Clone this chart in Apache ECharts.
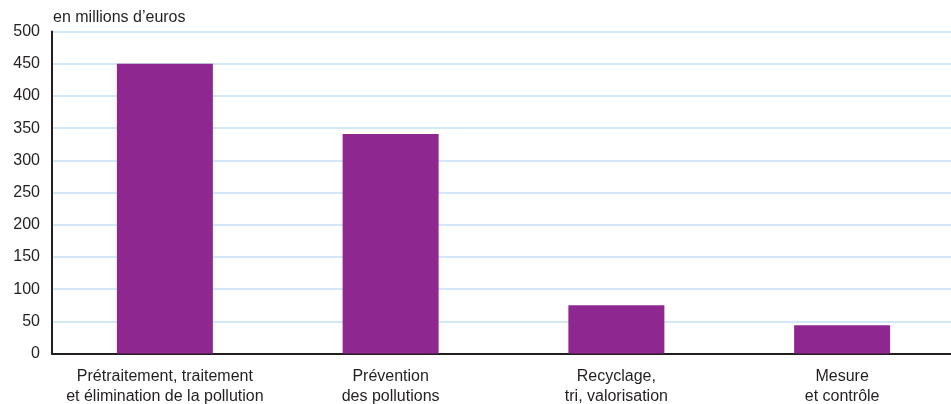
<!DOCTYPE html>
<html><head><meta charset="utf-8">
<script src="https://cdn.jsdelivr.net/npm/echarts@6/dist/echarts.min.js"></script>
<style>html,body{margin:0;padding:0;background:#fff}#c{width:951px;height:404px}</style>
</head><body><div id="c"></div>
<script>
const categories = ["Prétraitement, traitement\net élimination de la pollution", "Prévention\ndes pollutions", "Recyclage,\ntri, valorisation", "Mesure\net contrôle"];
const values = [450, 341, 75, 44];
const unitLabel = "en millions d\u2019euros";
const FONT = "'Liberation Sans Narrow', 'Arial Narrow', 'Liberation Sans', sans-serif";
const chart = echarts.init(document.getElementById('c'), null, {renderer: 'canvas'});
chart.setOption({
  animation: false,
  title: {text: unitLabel, left: 53, top: 10, padding: 0,
    textStyle: {fontFamily: FONT, fontSize: 16, fontWeight: 'normal', color: '#231f20'}},
  grid: {left: 52, right: -4, top: 31.5, bottom: 50.5, containLabel: false, outerBoundsMode: 'none'},
  xAxis: {type: 'category', data: categories,
    axisLine: {lineStyle: {color: '#231f20', width: 2}},
    axisTick: {show: false},
    axisLabel: {fontFamily: FONT, fontSize: 16, color: '#231f20', lineHeight: 20, margin: 13, interval: 0}},
  yAxis: {type: 'value', min: 0, max: 500, interval: 50,
    axisLine: {show: true, lineStyle: {color: '#231f20', width: 2}},
    axisTick: {show: false},
    axisLabel: {fontFamily: FONT, fontSize: 16, color: '#231f20', margin: 12},
    splitLine: {lineStyle: {color: '#c3e1f1', width: 1.5}}},
  series: [{type: 'bar', data: values, barWidth: 96, itemStyle: {color: '#8e278f'}}]
});
</script></body></html>
